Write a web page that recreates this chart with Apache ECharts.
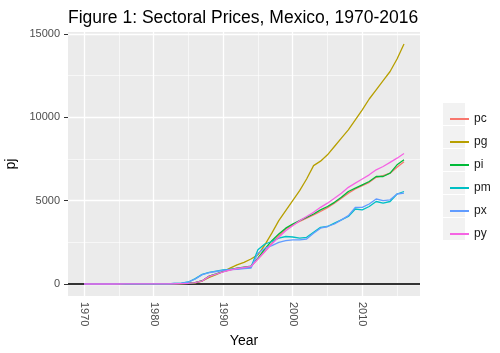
<!DOCTYPE html>
<html>
<head>
    <meta charset="utf-8">
    <title>Sectoral Prices, Mexico</title>
    <script src="https://cdn.jsdelivr.net/npm/echarts@6/dist/echarts.min.js"></script>
</head>
<body style="margin:0">
    <div id="main" style="width:500px;height:353px"></div>
    <script type="text/javascript">
        // data
        var years = [1970,1971,1972,1973,1974,1975,1976,1977,1978,1979,
                     1980,1981,1982,1983,1984,1985,1986,1987,1988,1989,
                     1990,1991,1992,1993,1994,1995,1996,1997,1998,1999,
                     2000,2001,2002,2003,2004,2005,2006,2007,2008,2009,
                     2010,2011,2012,2013,2014,2015,2016];
        var pc = [0.8,0.85,0.9,1.0,1.3,1.5,1.8,2.3,2.7,3.2,
                  4.1,5.3,8.4,17,28,44,82,190,470,600,
                  740,850,940,1000,1060,1500,1950,2450,2900,3300,
                  3550,3750,3950,4150,4350,4580,4850,5150,5450,5700,
                  5900,6100,6400,6500,6650,7000,7330];
        var pg = [0.6,0.7,0.8,0.9,1.2,1.5,1.8,2.2,2.6,3.1,
                  4,5.5,9,16,26,40,75,180,400,560,
                  750,950,1150,1300,1500,1750,2350,3050,3800,4400,
                  5000,5600,6300,7100,7370,7750,8250,8750,9250,9850,
                  10450,11100,11650,12200,12750,13500,14400];
        var pi = [0.8,0.85,0.9,1.0,1.3,1.5,1.8,2.3,2.7,3.2,
                  4.1,5.3,8.4,17,28,44,85,200,480,610,
                  750,860,950,1010,1070,1550,2100,2600,3000,3350,
                  3600,3800,4000,4200,4450,4650,4900,5200,5550,5750,
                  5950,6150,6450,6450,6650,7150,7450];
        var pm = [0.9,1,1,1.1,1.4,1.7,2.2,3.5,4,4.5,
                  5.5,7,13,30,45,120,320,580,700,770,
                  840,880,920,960,1000,2050,2400,2550,2750,2850,
                  2820,2750,2800,3100,3400,3450,3650,3850,4050,4500,
                  4450,4650,4950,4850,4950,5400,5550];
        var px = [0.9,1,1,1.1,1.4,1.7,2.2,3.5,4,4.5,
                  5.5,7,13,30,45,110,300,560,680,750,
                  820,860,880,920,950,1850,2150,2300,2500,2600,
                  2650,2650,2700,3050,3350,3450,3600,3850,4100,4600,
                  4600,4800,5100,5000,5050,5400,5450];
        var py = [0.8,0.85,0.9,1.0,1.3,1.5,1.8,2.3,2.7,3.2,
                  4,5.2,8.2,16,27,43,80,185,460,590,
                  730,840,930,990,1050,1500,1950,2400,2800,3200,
                  3500,3800,4050,4300,4600,4850,5150,5450,5800,6050,
                  6300,6550,6850,7050,7300,7550,7830];

        var seriesNames = ['pc','pg','pi','pm','px','py'];
        var seriesValues = [pc, pg, pi, pm, px, py];
        var colors = ['#F8766D','#B79F00','#00BA38','#00BFC4','#619CFF','#F564E3'];

        var xTicks = [1970,1980,1990,2000,2010];
        var xMinor = [1975,1985,1995,2005,2015];
        var yTicks = [0,5000,10000,15000];
        var yMinor = [2500,7500,12500];

        var chart = echarts.init(document.getElementById('main'));

        function pairs(vals) {
            return years.map(function (y, i) { return [y, vals[i]]; });
        }
        function gridLines(list, axis, w) {
            return list.map(function (v) {
                var d = {lineStyle: {width: w}};
                d[axis] = v;
                return d;
            });
        }
        function plain(v) { return String(v); }

        var series = [];
        // panel grid lines
        series.push({
            name: 'grid', type: 'line', data: [],
            markLine: {
                silent: true, symbol: 'none', animation: false,
                label: {show: false},
                lineStyle: {color: '#FFFFFF', type: 'solid'},
                data: gridLines(yMinor, 'yAxis', 0.6)
                    .concat(gridLines(xMinor, 'xAxis', 0.6))
                    .concat(gridLines(yTicks, 'yAxis', 1.3))
                    .concat(gridLines(xTicks, 'xAxis', 1.3))
            }
        });
        // zero line
        series.push({
            name: 'zero', type: 'line', data: [],
            markLine: {
                silent: true, symbol: 'none', animation: false, z: 6,
                label: {show: false},
                lineStyle: {color: '#333333', width: 2, type: 'solid'},
                data: [{yAxis: 0}]
            }
        });
        seriesNames.forEach(function (n, i) {
            series.push({
                name: n, type: 'line', z: 10,
                data: pairs(seriesValues[i]),
                showSymbol: false,
                lineStyle: {width: 1.3, color: colors[i]},
                itemStyle: {color: colors[i]}
            });
        });

        // grey legend key boxes
        var keys = seriesNames.map(function (n, i) {
            return {
                type: 'rect', left: 443, top: 103 + i * 23, z: 0,
                shape: {width: 22, height: 22},
                style: {fill: '#F2F2F2'}
            };
        });

        chart.setOption({
            animation: false,
            backgroundColor: '#FFFFFF',
            title: {
                text: 'Figure 1: Sectoral Prices, Mexico, 1970-2016',
                left: 63, top: 4,
                textStyle: {fontFamily: 'Liberation Sans', fontSize: 17.5, fontWeight: 'normal', color: '#000000'}
            },
            grid: {
                left: 68, right: 80, top: 32, bottom: 57,
                outerBoundsMode: 'none', containLabel: false,
                show: true, backgroundColor: '#EBEBEB', borderWidth: 0
            },
            legend: {
                data: seriesNames,
                orient: 'vertical', left: 445, top: 103,
                itemWidth: 19, itemHeight: 2, itemGap: 1,
                icon: 'rect',
                textStyle: {fontFamily: 'Liberation Sans', fontSize: 12, color: '#1A1A1A', lineHeight: 22}
            },
            xAxis: {
                type: 'value', min: 1967.7, max: 2018.3,
                name: 'Year', nameLocation: 'middle', nameGap: 38,
                nameTextStyle: {fontFamily: 'Liberation Sans', fontSize: 14, color: '#000000'},
                axisLine: {show: false},
                axisTick: {show: true, length: 4, customValues: xTicks, lineStyle: {color: '#333333'}},
                axisLabel: {
                    customValues: xTicks, rotate: -90, margin: 6, formatter: plain,
                    fontFamily: 'Liberation Sans', fontSize: 11, color: '#4D4D4D'
                },
                splitLine: {show: false}
            },
            yAxis: {
                type: 'value', min: -720, max: 15120,
                name: 'pj', nameLocation: 'middle', nameGap: 47, nameRotate: 90,
                nameTextStyle: {fontFamily: 'Liberation Sans', fontSize: 14, color: '#000000'},
                axisLine: {show: false},
                axisTick: {show: true, length: 4, customValues: yTicks, lineStyle: {color: '#333333'}},
                axisLabel: {
                    customValues: yTicks, margin: 8, formatter: plain,
                    fontFamily: 'Liberation Sans', fontSize: 11, color: '#4D4D4D'
                },
                splitLine: {show: false}
            },
            graphic: keys,
            series: series
        });
    </script>
</body>
</html>
